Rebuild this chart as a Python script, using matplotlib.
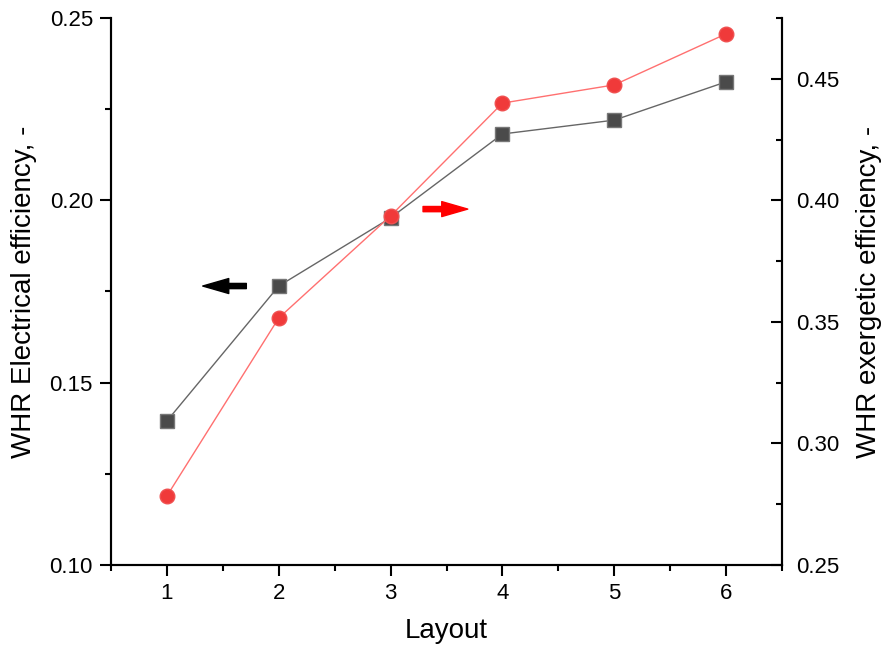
import numpy as np
import matplotlib.pyplot as plt
from matplotlib.ticker import MultipleLocator

plt.rcParams['font.family'] = ['Liberation Sans', 'DejaVu Sans']

layout = [1, 2, 3, 4, 5, 6]
elec_eff = [0.1395, 0.1765, 0.1952, 0.2182, 0.2220, 0.2325]
exer_eff = [0.2784, 0.3516, 0.3936, 0.4400, 0.4475, 0.4685]

fig = plt.figure(figsize=(8.83, 6.53), dpi=100)
ax = fig.add_axes([0.1257, 0.1348, 0.76, 0.8376])
ax2 = ax.twinx()

ax.plot(layout, elec_eff, color='#666666', lw=1, marker='s', ms=9.5,
        markerfacecolor='#4a4a4a', markeredgecolor='#777777', markeredgewidth=1, zorder=3)
ax2.plot(layout, exer_eff, color='#ff7070', lw=1, marker='o', ms=10.5,
         markerfacecolor='#f03a3a', markeredgecolor='#f05050', markeredgewidth=1, zorder=3)

ax.set_xlim(0.5, 6.5)
ax.set_ylim(0.10, 0.25)
ax2.set_ylim(0.25, 0.475)

ax.xaxis.set_major_locator(MultipleLocator(1))
ax.xaxis.set_minor_locator(MultipleLocator(0.5))
ax.yaxis.set_major_locator(MultipleLocator(0.05))
ax.yaxis.set_minor_locator(MultipleLocator(0.025))
ax2.yaxis.set_major_locator(MultipleLocator(0.05))
ax2.yaxis.set_minor_locator(MultipleLocator(0.025))
ax.yaxis.set_major_formatter(plt.FormatStrFormatter('%.2f'))
ax2.yaxis.set_major_formatter(plt.FormatStrFormatter('%.2f'))

for a in (ax, ax2):
    a.spines['top'].set_visible(False)
    for s in a.spines.values():
        s.set_linewidth(1.5)
ax.tick_params(which='major', direction='out', length=8, width=1.5, labelsize=16, pad=5)
ax.tick_params(which='minor', direction='out', length=4, width=1.5)
ax2.tick_params(which='major', direction='in', length=8, width=1.5, labelsize=16, pad=10)
ax2.tick_params(which='minor', direction='in', length=4, width=1.5)

ax.set_xlabel('Layout', fontsize=20, labelpad=10)
ax.set_ylabel('WHR Electrical efficiency, -', fontsize=20, labelpad=9)
ax2.set_ylabel('WHR exergetic efficiency, -', fontsize=20, labelpad=12)

# direction arrows
arrow_style = 'simple,head_length=1.25,head_width=0.72,tail_width=0.25'
ax.annotate('', xy=(1.32, 0.1765), xytext=(1.71, 0.1765),
            arrowprops=dict(arrowstyle=arrow_style, color='black',
                            mutation_scale=15, shrinkA=0, shrinkB=0))
ax.annotate('', xy=(3.69, 0.1976), xytext=(3.29, 0.1976),
            arrowprops=dict(arrowstyle=arrow_style, color='red',
                            mutation_scale=15, shrinkA=0, shrinkB=0))

fig.savefig('out.png', dpi=100)
